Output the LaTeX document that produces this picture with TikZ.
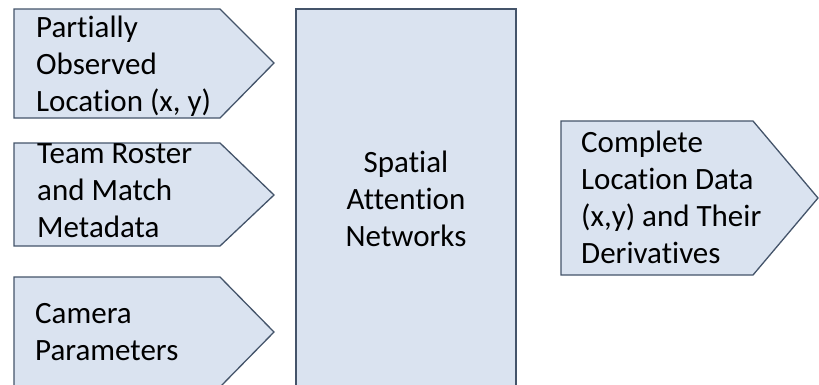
\documentclass[tikz,border=0pt]{standalone}
\usepackage{fontspec}
\setmainfont[Ligatures=NoCommon]{Carlito}
\usepackage{tikz}
\usetikzlibrary{positioning}

\definecolor{boxfill}{RGB}{218,227,240}
\definecolor{boxline}{RGB}{68,84,106}

\tikzset{
  arrowbox/.style={draw=boxline, fill=boxfill, line width=1.3pt, line join=miter},
  boxtext/.style={inner sep=0pt, align=left, anchor=west,
    font=\fontsize{31}{37}\selectfont},
  midtext/.style={inner sep=0pt, align=center,
    font=\fontsize{31}{37}\selectfont}
}

\begin{document}
\begin{tikzpicture}[x=1pt,y=-1pt]
            \useasboundingbox (0,0) rectangle (819,384);
            \clip (0,0) rectangle (819,384);
            % inputs
            \draw[arrowbox] (14,9) -- (220,9) -- (274,63) -- (220,118) -- (14,118) -- cycle;
            \node[boxtext] (observed) at (36,66) {Partially\\Observed\\Location (x, y)};
            \draw[arrowbox] (14,143) -- (220,143) -- (274,195) -- (220,246) -- (14,246) -- cycle;
            \node[boxtext] (roster) at (37,191) {Team Roster\\and Match\\Metadata};
            \draw[arrowbox] (14,277) -- (220,277) -- (274,332) -- (220,387) -- (14,387) -- cycle;
            \node[boxtext] (camera) at (35,332) {Camera\\Parameters};
            % network
            \draw[arrowbox] (296,9) rectangle (516,400);
            \node[midtext] (network) at (406,199) {Spatial\\Attention\\Networks};
            % output
            \draw[arrowbox] (561,121) -- (753,121) -- (818,198) -- (753,275) -- (561,275) -- cycle;
            \node[boxtext] (output) at (581,197) {Complete\\Location Data\\(x,y) and Their\\Derivatives};
          \end{tikzpicture}
\end{document}
